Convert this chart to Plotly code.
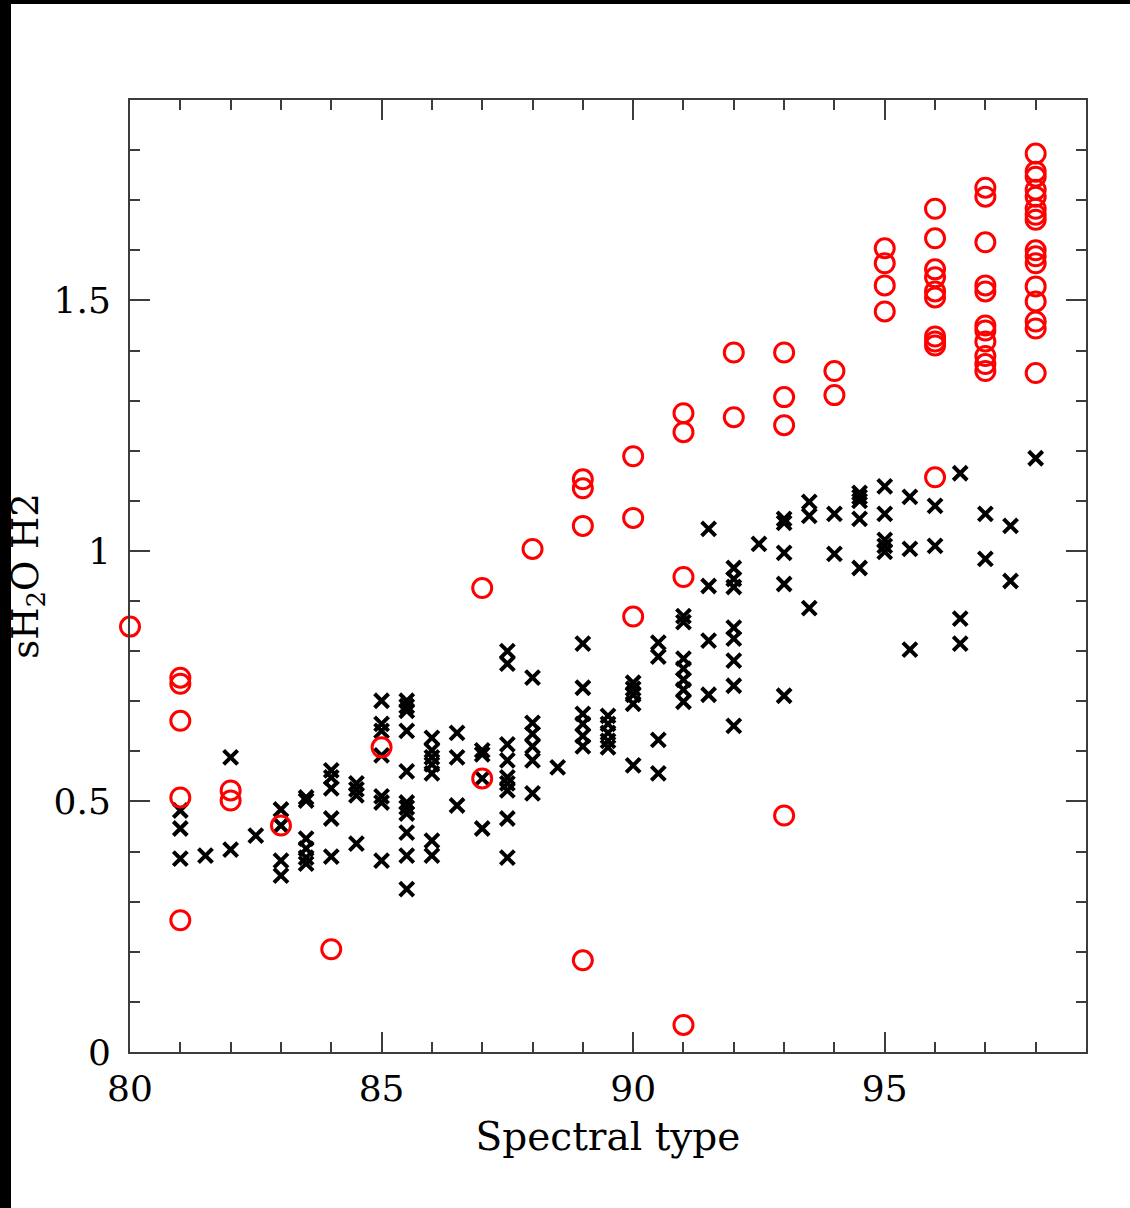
import plotly.graph_objects as go

# Red circles (spectral type, index)
red_x = [80,
         81, 81, 81, 81, 81,
         82, 82, 83, 84, 85, 87, 87, 88,
         89, 89, 89, 89,
         90, 90, 90,
         91, 91, 91, 91,
         92, 92,
         93, 93, 93, 93,
         94, 94,
         95, 95, 95, 95,
         96, 96, 96, 96, 96, 96, 96, 96, 96, 96,
         97, 97, 97, 97, 97, 97, 97, 97, 97, 97, 97,
         98, 98, 98, 98, 98, 98, 98, 98, 98, 98, 98, 98, 98, 98, 98, 98]
red_y = [0.849,
         0.747, 0.735, 0.661, 0.508, 0.263,
         0.522, 0.502, 0.452, 0.205, 0.608, 0.546, 0.926, 1.004,
         1.143, 1.125, 1.050, 0.183,
         1.189, 1.066, 0.869,
         1.275, 1.237, 0.948, 0.054,
         1.396, 1.267,
         1.396, 1.307, 1.251, 0.472,
         1.359, 1.311,
         1.604, 1.574, 1.530, 1.478,
         1.683, 1.624, 1.562, 1.546, 1.518, 1.506, 1.428, 1.418, 1.410, 1.147,
         1.725, 1.707, 1.616, 1.530, 1.518, 1.450, 1.440, 1.418, 1.389, 1.373, 1.359,
         1.793, 1.757, 1.747, 1.721, 1.707, 1.683, 1.671, 1.661, 1.600, 1.588, 1.574,
         1.528, 1.498, 1.458, 1.444, 1.355]

# Black crosses grouped by spectral type
cross_groups = {
    81: [0.482, 0.446, 0.386],
    81.5: [0.392],
    82: [0.588, 0.404],
    82.5: [0.432],
    83: [0.484, 0.452, 0.382, 0.352],
    83.5: [0.508, 0.502, 0.426, 0.406, 0.388, 0.376],
    84: [0.562, 0.548, 0.526, 0.466, 0.390],
    84.5: [0.536, 0.524, 0.512, 0.416],
    85: [0.701, 0.655, 0.641, 0.592, 0.510, 0.498, 0.382],
    85.5: [0.701, 0.690, 0.681, 0.641, 0.560, 0.498, 0.488, 0.476, 0.438, 0.392, 0.325],
    86: [0.627, 0.602, 0.588, 0.574, 0.556, 0.422, 0.392],
    86.5: [0.637, 0.588, 0.492],
    87: [0.602, 0.594, 0.546, 0.446],
    87.5: [0.800, 0.775, 0.614, 0.582, 0.548, 0.536, 0.522, 0.466, 0.388],
    88: [0.747, 0.657, 0.635, 0.610, 0.582, 0.516],
    88.5: [0.568],
    89: [0.815, 0.727, 0.675, 0.655, 0.631, 0.610],
    89.5: [0.671, 0.655, 0.637, 0.621, 0.608],
    90: [0.737, 0.725, 0.713, 0.695, 0.572],
    90.5: [0.817, 0.789, 0.623, 0.556],
    91: [0.870, 0.858, 0.785, 0.765, 0.743, 0.723, 0.699],
    91.5: [1.044, 0.930, 0.821, 0.713],
    92: [0.966, 0.944, 0.928, 0.847, 0.825, 0.781, 0.731, 0.651],
    92.5: [1.014],
    93: [1.064, 1.056, 0.996, 0.934, 0.711],
    93.5: [1.098, 1.070, 0.886],
    94: [1.074, 0.994],
    94.5: [1.116, 1.108, 1.100, 1.064, 0.966],
    95: [1.129, 1.074, 1.022, 1.010, 0.998],
    95.5: [1.108, 1.004, 0.803],
    96: [1.090, 1.010],
    96.5: [1.155, 0.865, 0.815],
    97: [1.074, 0.984],
    97.5: [1.050, 0.940],
    98: [1.185],
}
black_x = [k for k, vs in cross_groups.items() for _ in vs]
black_y = [v for vs in cross_groups.values() for v in vs]

x_ticks = [80, 85, 90, 95]
y_ticks = [0, 0.5, 1, 1.5]
y_tick_text = ["0", "0.5", "1", "1.5"]

FONT = "DejaVu Serif"
AX = "rgb(60,60,60)"

fig = go.Figure()
fig.add_trace(go.Scatter(
    x=black_x, y=black_y, mode="markers",
    marker=dict(symbol="x-thin-open", size=14, color="black",
                line=dict(color="black", width=4)),
    showlegend=False, cliponaxis=False))
fig.add_trace(go.Scatter(
    x=red_x, y=red_y, mode="markers",
    marker=dict(symbol="circle-open", size=19, color="red",
                line=dict(color="red", width=3)),
    showlegend=False, cliponaxis=False))

fig.update_layout(
    width=1130, height=1208,
    margin=dict(l=130, r=44, t=100, b=156),
    paper_bgcolor="white", plot_bgcolor="white",
    font=dict(family=FONT, size=36, color="black"),
    xaxis=dict(range=[80, 99], tickvals=x_ticks, ticks="inside", ticklen=20,
               tickwidth=2, tickcolor=AX, showline=True, linecolor=AX, linewidth=2,
               mirror="ticks", showgrid=False, zeroline=False,
               minor=dict(dtick=1, ticks="inside", ticklen=10, tickwidth=2, tickcolor=AX,
                          showgrid=False),
               tickfont=dict(family=FONT, size=36), ticklabelstandoff=4,
               title=dict(text="Spectral type", font=dict(family=FONT, size=39), standoff=14)),
    yaxis=dict(range=[0, 1.9], tickvals=y_ticks, ticktext=y_tick_text, ticks="inside",
               ticklen=20, tickwidth=2, tickcolor=AX, showline=True, linecolor=AX,
               linewidth=2, mirror="ticks", showgrid=False, zeroline=False,
               minor=dict(dtick=0.1, ticks="inside", ticklen=10, tickwidth=2, tickcolor=AX,
                          showgrid=False),
               tickfont=dict(family=FONT, size=36), ticklabelstandoff=10,
               title=dict(text="sH<sub>2</sub>O H2", font=dict(family=FONT, size=37), standoff=4)),
    shapes=[
        dict(type="rect", xref="paper", yref="paper",
             x0=-130/956, x1=-119/956, y0=-156/952, y1=1 + 100/952,
             fillcolor="black", line=dict(width=0), layer="above"),
        dict(type="rect", xref="paper", yref="paper",
             x0=-130/956, x1=1 + 44/956, y0=1 + 96/952, y1=1 + 100/952,
             fillcolor="black", line=dict(width=0), layer="above"),
    ],
)

fig.write_html("out.html")
